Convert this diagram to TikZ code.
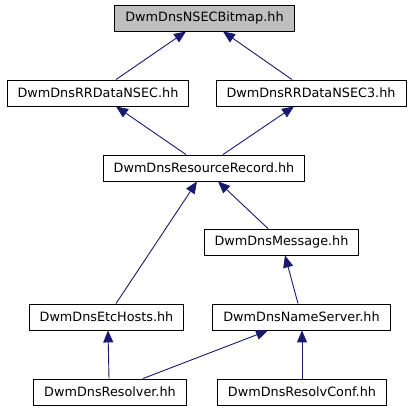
\documentclass[tikz,border=0pt]{standalone}
\usepackage{fontspec}
\setmainfont{DejaVu Sans}
\usetikzlibrary{calc,arrows.meta}
\definecolor{edgeblue}{RGB}{25,25,112}
\definecolor{rootgray}{RGB}{191,191,191}

\begin{document}
\begin{tikzpicture}[x=1pt, y=-1pt,
        file/.style={rectangle, draw=black, line width=0.9pt, fill=white, inner xsep=10.5pt,
                     minimum height=26pt, font=\fontsize{12.8}{14}\selectfont},
        edge/.style={edgeblue, line width=0.9pt, {Triangle[length=12pt,width=10pt]}-}]
            \useasboundingbox (0, 0) rectangle (413, 411);

            \node[file, fill=rootgray] (bitmap) at (204.5, 18) {DwmDnsNSECBitmap.hh};
            \node[file] (nsec) at (98, 93) {DwmDnsRRDataNSEC.hh};
            \node[file] (nsec3) at (311, 93) {DwmDnsRRDataNSEC3.hh};
            \node[file] (rr) at (204, 168) {DwmDnsResourceRecord.hh};
            \node[file] (msg) at (281.5, 242) {DwmDnsMessage.hh};
            \node[file] (etc) at (106.5, 317) {DwmDnsEtcHosts.hh};
            \node[file] (ns) at (301.5, 317) {DwmDnsNameServer.hh};
            \node[file] (res) at (110, 392) {DwmDnsResolver.hh};
            \node[file] (conf) at (302, 392) {DwmDnsResolvConf.hh};

            \draw[edge] ($(bitmap.south)+(-18.5, 0)$) -- ($(nsec.north)+(18, 0)$);
            \draw[edge] ($(bitmap.south)+(18.5, 0)$) -- ($(nsec3.north)+(-19, 0)$);
            \draw[edge] ($(nsec.south)+(18, 0)$) -- ($(rr.north)+(-18, 0)$);
            \draw[edge] ($(nsec3.south)+(-17, 0)$) -- ($(rr.north)+(19, 0)$);
            \draw[edge] ($(rr.south)+(-7, 0)$) -- ($(etc.north)+(9.5, 0)$);
            \draw[edge] ($(rr.south)+(14, 0)$) -- ($(msg.north)+(-13.5, 0)$);
            \draw[edge] ($(msg.south)+(3.5, 0)$) -- ($(ns.north)+(-3.5, 0)$);
            \draw[edge] ($(etc.south)+(1.5, 0)$) -- ($(res.north)+(-1, 0)$);
            \draw[edge] ($(ns.south)+(-33.5, 0)$) -- ($(res.north)+(33, 0)$);
            \draw[edge] ($(ns.south)+(0.5, 0)$) -- (conf.north);
        \end{tikzpicture}
\end{document}
